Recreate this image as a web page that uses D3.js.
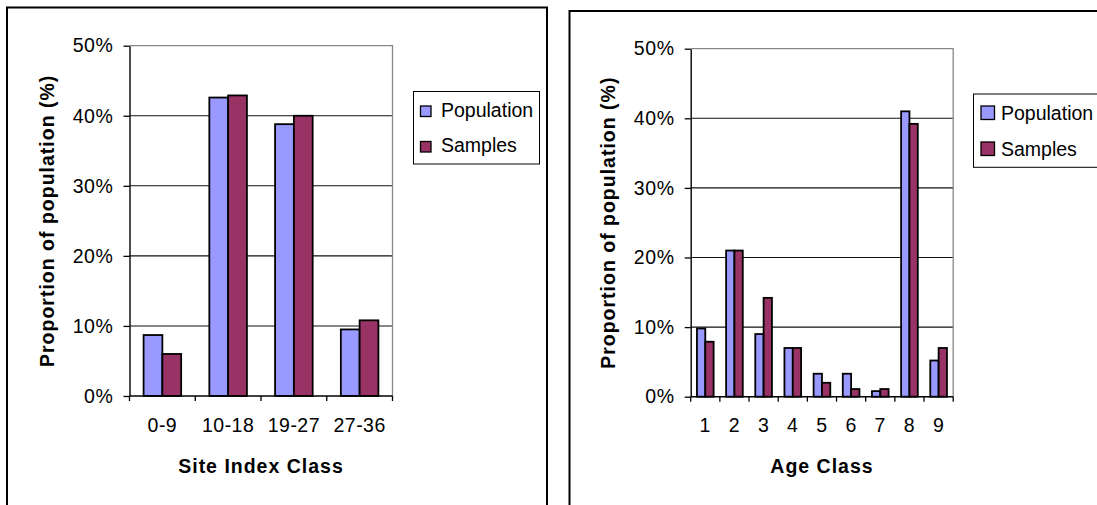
<!DOCTYPE html>
<html>
<head>
<meta charset="utf-8">
<script src="https://cdn.jsdelivr.net/npm/d3@7"></script>
<style>
  body { margin: 0; background: #fff; }
  svg { display: block; }
  text { font-family: "Liberation Sans", Arial, sans-serif; fill: #000; }
</style>
</head>
<body>
<svg id="chart" width="1097" height="505"></svg>
<script>
// Series shared by both panels
const seriesNames = ["Population", "Samples"];
const seriesColors = ["#9999FF", "#993366"];
const yTicks = [0, 10, 20, 30, 40, 50];

// Site index class distribution (%)
const siteClasses = ["0-9", "10-18", "19-27", "27-36"];
const sitePopulation = [8.7, 42.6, 38.8, 9.5];
const siteSamples = [6.0, 42.9, 40.0, 10.8];

// Age class distribution (%)
const ageClasses = ["1", "2", "3", "4", "5", "6", "7", "8", "9"];
const agePopulation = [9.8, 21.0, 9.0, 7.0, 3.3, 3.3, 0.8, 41.0, 5.2];
const ageSamples = [7.9, 21.0, 14.2, 7.0, 2.0, 1.1, 1.1, 39.2, 7.0];

const svg = d3.select("#chart");

function drawPanel(p) {
  const g = svg.append("g");

  // outer chart frame
  g.append("rect")
    .attr("x", p.frame.x).attr("y", p.frame.y)
    .attr("width", p.frame.w).attr("height", p.frame.h)
    .attr("fill", "#fff").attr("stroke", "#000").attr("stroke-width", 2);

  const x = d3.scaleBand().domain(p.categories).range([p.plot.left, p.plot.right]);
  const xs = d3.scaleBand().domain(seriesNames).range([0, x.bandwidth()]).paddingOuter(0.75);
  const y = d3.scaleLinear().domain([0, 50]).range([p.plot.bottom, p.plot.top]);
  const color = d3.scaleOrdinal().domain(seriesNames).range(seriesColors);

  // horizontal gridlines
  g.append("g").selectAll("line")
    .data(yTicks.filter(t => t > 0 && t < 50))
    .join("line")
    .attr("x1", p.plot.left).attr("x2", p.plot.right)
    .attr("y1", d => y(d)).attr("y2", d => y(d))
    .attr("stroke", "#111").attr("stroke-width", 1.1);

  // plot area border (top and right)
  g.append("path")
    .attr("d", `M${p.plot.left},${y(50)}H${p.plot.right}V${y(0)}`)
    .attr("fill", "none").attr("stroke", "#888").attr("stroke-width", 1.3);

  // bars
  const rows = p.categories.map((c, i) => ({
    cat: c,
    values: [
      { name: seriesNames[0], v: p.population[i] },
      { name: seriesNames[1], v: p.samples[i] }
    ]
  }));
  g.append("g").selectAll("g")
    .data(rows)
    .join("g")
    .attr("transform", d => `translate(${x(d.cat)},0)`)
    .selectAll("rect")
    .data(d => d.values)
    .join("rect")
    .attr("x", d => xs(d.name))
    .attr("y", d => y(d.v))
    .attr("width", xs.bandwidth())
    .attr("height", d => y(0) - y(d.v))
    .attr("fill", d => color(d.name))
    .attr("stroke", "#000").attr("stroke-width", 1.8);

  // y axis
  const yAxis = g.append("g")
    .attr("transform", `translate(${p.plot.left},0)`)
    .call(d3.axisLeft(y).tickValues(yTicks).tickFormat(d => d + "%")
      .tickSize(6).tickSizeOuter(0).tickPadding(10));
  yAxis.select(".domain").attr("stroke", "#000").attr("stroke-width", 1.4);
  yAxis.selectAll(".tick line").attr("stroke", "#000").attr("stroke-width", 1.3);
  yAxis.selectAll(".tick text")
    .attr("fill", "#000")
    .style("font-family", '"Liberation Sans", Arial, sans-serif')
    .style("font-size", "19.5px")
    .style("letter-spacing", "0.6px");

  // x axis line and category boundary ticks
  g.append("line")
    .attr("x1", p.plot.left).attr("x2", p.plot.right)
    .attr("y1", y(0)).attr("y2", y(0))
    .attr("stroke", "#000").attr("stroke-width", 1.4);
  const bounds = p.categories.map(c => x(c)).concat([x.range()[1]]);
  g.append("g").selectAll("line")
    .data(bounds)
    .join("line")
    .attr("x1", d => d).attr("x2", d => d)
    .attr("y1", y(0)).attr("y2", y(0) + 5)
    .attr("stroke", "#000").attr("stroke-width", 1.3);

  // category labels
  g.append("g").selectAll("text")
    .data(p.categories)
    .join("text")
    .attr("x", d => x(d) + x.bandwidth() / 2)
    .attr("y", p.xLabelY)
    .attr("text-anchor", "middle")
    .style("font-size", "19.5px")
    .style("letter-spacing", "0.5px")
    .text(d => d);

  // axis titles
  g.append("text")
    .attr("x", (p.plot.left + p.plot.right) / 2)
    .attr("y", p.xTitleY)
    .attr("text-anchor", "middle")
    .style("font-size", "19.5px").style("font-weight", "bold")
    .style("letter-spacing", "1px")
    .text(p.xTitle);
  g.append("text")
    .attr("transform", `translate(${p.yTitleX},${(p.plot.top + p.plot.bottom) / 2}) rotate(-90)`)
    .attr("text-anchor", "middle")
    .style("font-size", "19.5px").style("font-weight", "bold")
    .style("letter-spacing", "1px")
    .text("Proportion of population (%)");

  // legend
  const lg = g.append("g");
  lg.append("rect")
    .attr("x", p.legend.x).attr("y", p.legend.y)
    .attr("width", p.legend.w).attr("height", p.legend.h)
    .attr("fill", "#fff").attr("stroke", "#000").attr("stroke-width", 1);
  const items = lg.selectAll("g.item")
    .data(seriesNames)
    .join("g").attr("class", "item");
  items.append("rect")
    .attr("x", p.legend.sx)
    .attr("y", (d, i) => p.legend.baselines[i] - p.legend.s)
    .attr("width", p.legend.s).attr("height", p.legend.s)
    .attr("fill", d => color(d))
    .attr("stroke", "#000").attr("stroke-width", 1.3);
  items.append("text")
    .attr("x", p.legend.tx)
    .attr("y", (d, i) => p.legend.baselines[i])
    .style("font-size", "19.5px")
    .style("letter-spacing", "0px")
    .text(d => d);
}

drawPanel({
  categories: siteClasses,
  population: sitePopulation,
  samples: siteSamples,
  xTitle: "Site Index Class",
  frame: { x: 7, y: 7.5, w: 540, h: 520 },
  plot: { left: 129.5, right: 392.5, top: 45.7, bottom: 396 },
  xLabelY: 431.7,
  xTitleY: 472.7,
  yTitleX: 54,
  legend: { x: 413.5, y: 91.5, w: 126, h: 72.5, sx: 420.5, s: 10.5, tx: 441, baselines: [116.5, 152] }
});

drawPanel({
  categories: ageClasses,
  population: agePopulation,
  samples: ageSamples,
  xTitle: "Age Class",
  frame: { x: 569.5, y: 11, w: 560, h: 520 },
  plot: { left: 690.7, right: 953.2, top: 48.7, bottom: 396.7 },
  xLabelY: 432.3,
  xTitleY: 472.7,
  yTitleX: 615,
  legend: { x: 973.5, y: 94, w: 160, h: 73.3, sx: 981, s: 13.5, tx: 1001, baselines: [119.5, 155.5] }
});
</script>
</body>
</html>
